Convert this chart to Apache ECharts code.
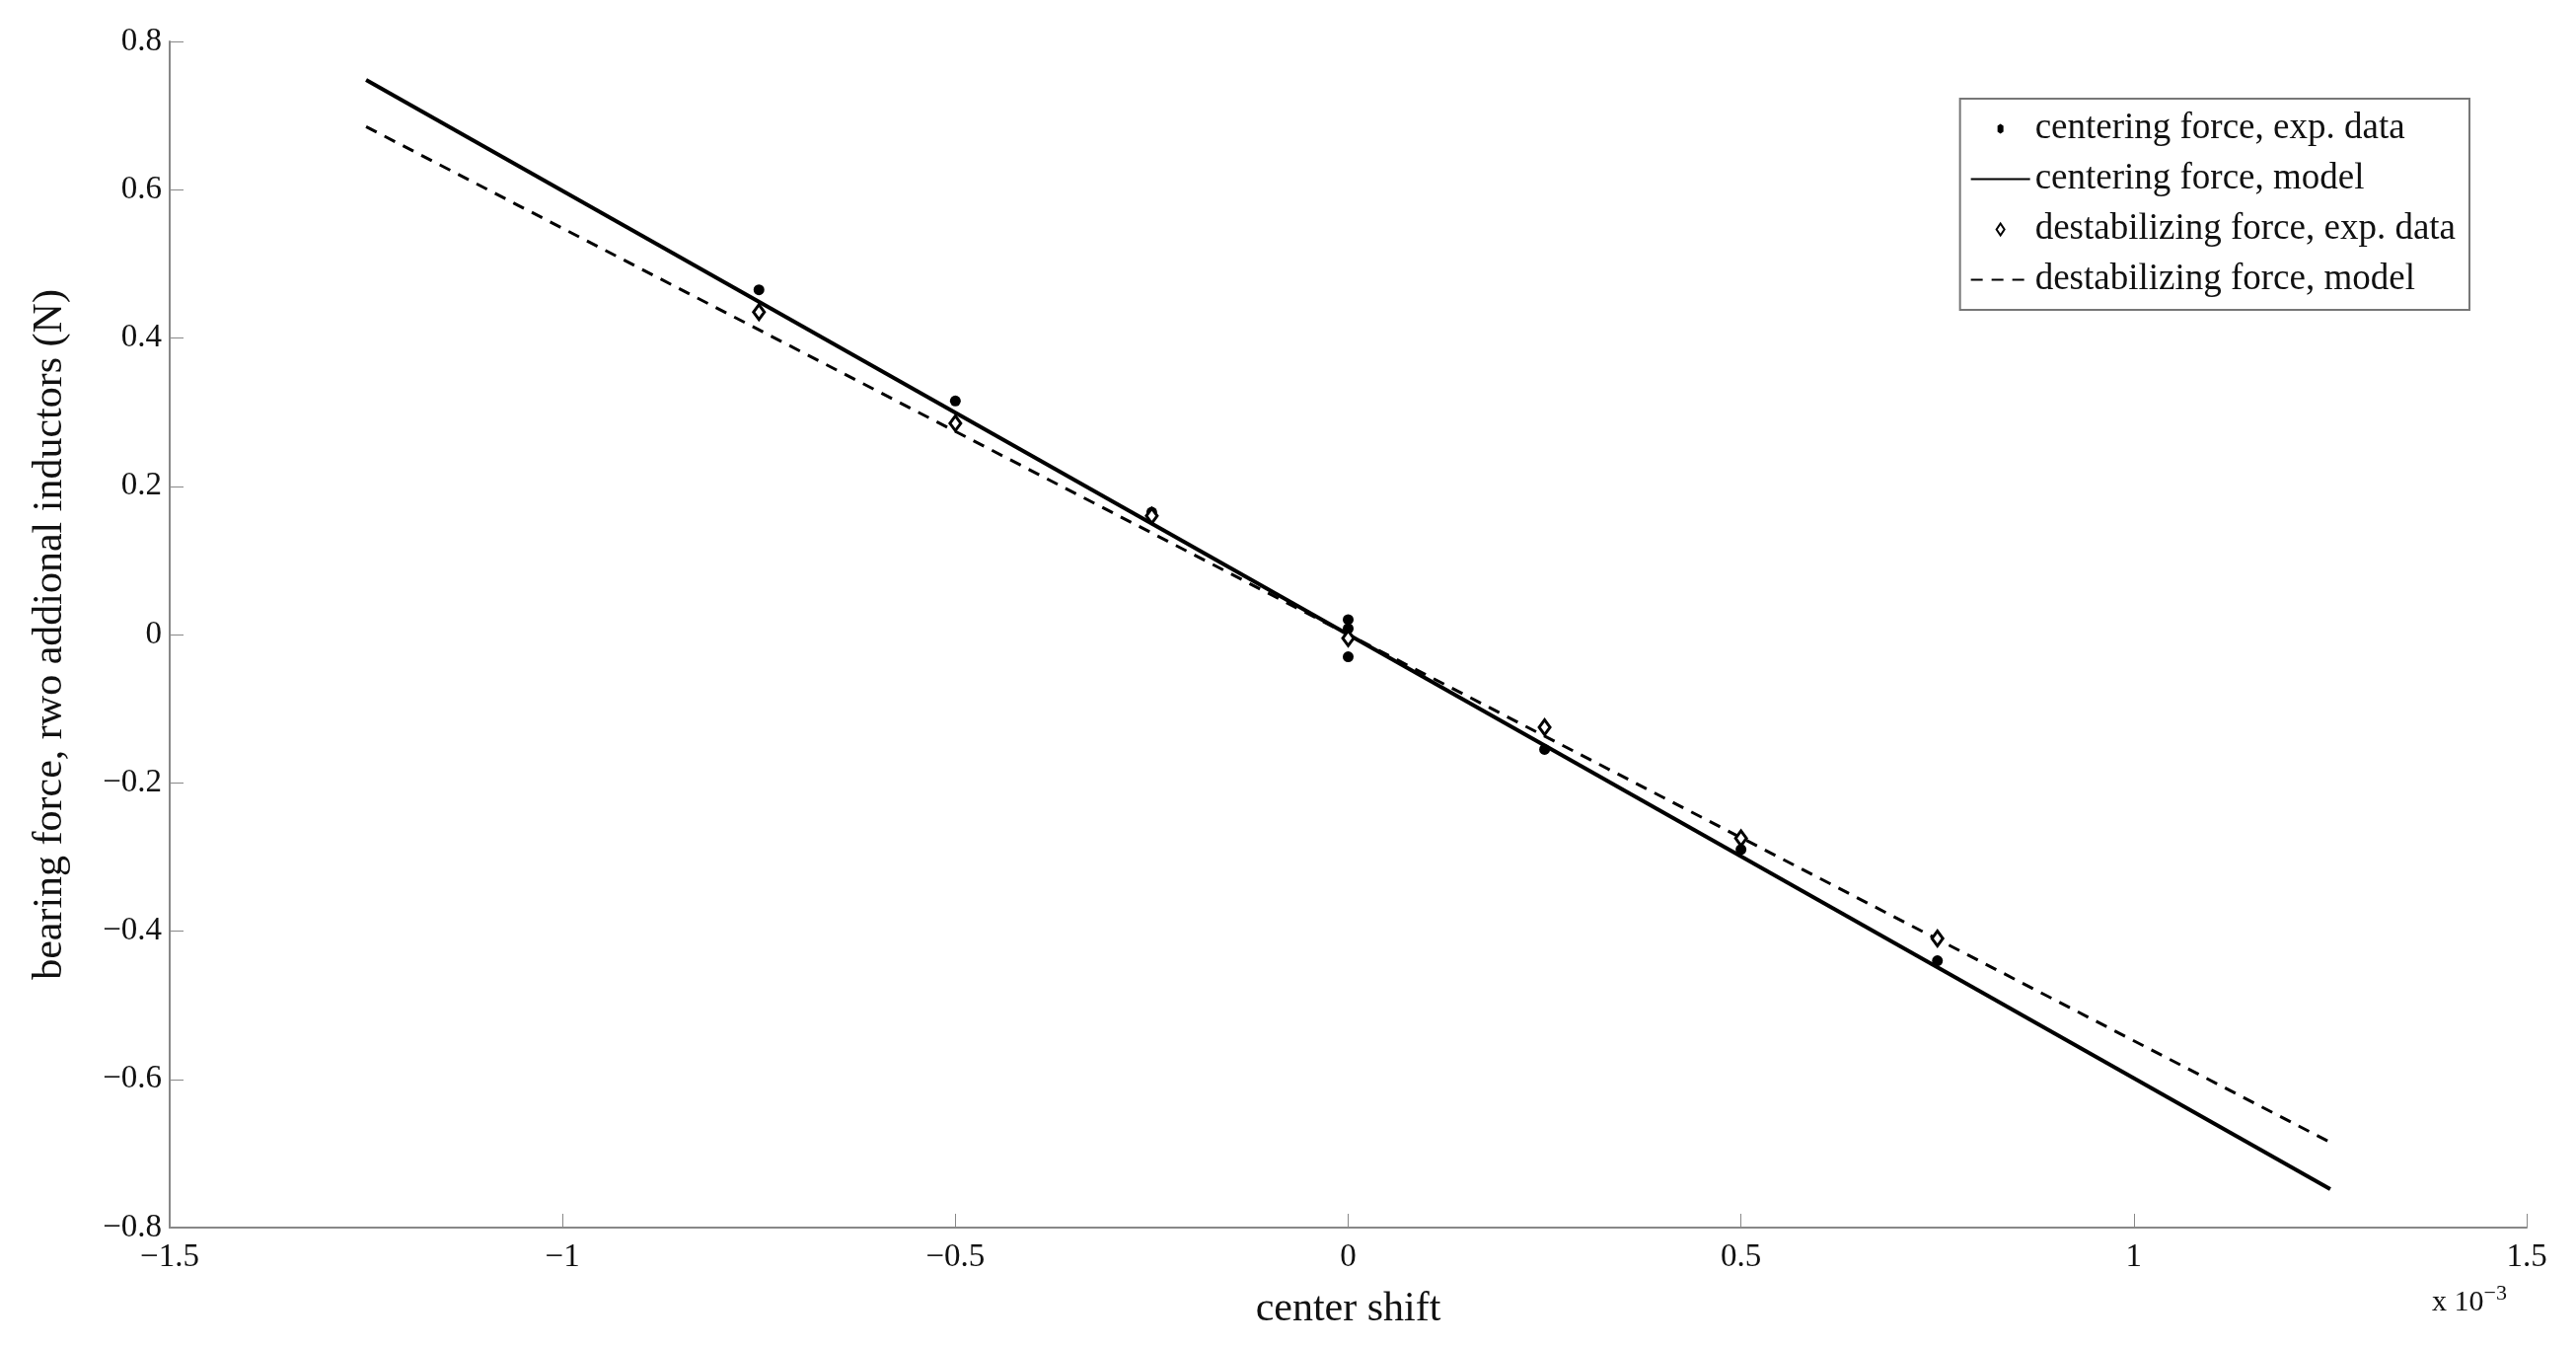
<!DOCTYPE html>
<html><head><meta charset="utf-8">
<script src="https://cdn.jsdelivr.net/npm/echarts@6/dist/echarts.min.js"></script>
<style>html,body{margin:0;background:#fff}#c{width:2611px;height:1365px}</style>
</head><body><div id="c"></div>
<script>
// x values in units of 1e-3
var centerExp = [[-0.75,0.465],[-0.5,0.315],[-0.25,0.165],[0,0.02],[0,0.008],[0,-0.005],[0,-0.03],[0.25,-0.155],[0.5,-0.29],[0.75,-0.44]];
var centerModel = [[-1.25,0.748],[1.25,-0.748]];
var destabExp = [[-0.75,0.435],[-0.5,0.285],[-0.25,0.16],[0,-0.005],[0.25,-0.125],[0.5,-0.275],[0.75,-0.41]];
var destabModel = [[-1.25,0.685],[1.25,-0.685]];

var font = 'Liberation Serif';
var chart = echarts.init(document.getElementById('c'));
var axisCommon = {
  axisLine: {onZero: false, lineStyle: {color: '#888', width: 2}},
  axisTick: {inside: true, length: 14, lineStyle: {color: '#888'}},
  splitLine: {show: false},
  nameTextStyle: {color: '#111', fontFamily: font, fontSize: 42}
};
var minus = function (s) { return s.replace('-', '\u2212'); };
chart.setOption({
  animation: false,
  grid: {left: 172, right: 50, top: 42, bottom: 121},
  legend: {
    orient: 'vertical', right: 108, top: 100,
    itemWidth: 60, itemHeight: 16, itemGap: 14,
    padding: [12, 14, 12, 10],
    borderColor: '#777', borderWidth: 2,
    textStyle: {fontFamily: font, fontSize: 37, color: '#111'},
    data: [
      {name: 'centering force, exp. data', icon: 'path://M0,8L0,8M27,5L30,3L33,5L33,11L30,13L27,11ZM60,8L60,8'},
      {name: 'centering force, model', itemStyle: {opacity: 0}},
      {name: 'destabilizing force, exp. data', icon: 'path://M0,8L0,8M30,2L34,8L30,14L26,8ZM60,8L60,8'},
      {name: 'destabilizing force, model', itemStyle: {opacity: 0}}
    ]
  },
  xAxis: Object.assign({type: 'value', min: -1.5, max: 1.5, interval: 0.5,
    name: 'center shift', nameLocation: 'middle', nameGap: 62}, axisCommon,
    {axisLabel: {color: '#111', fontFamily: font, fontSize: 33, margin: 14,
      formatter: function (v) { return minus(String(v)); }}}),
  yAxis: Object.assign({type: 'value', min: -0.8, max: 0.8, interval: 0.2,
    name: 'bearing force, rwo addional inductors (N)', nameLocation: 'middle', nameGap: 100}, axisCommon,
    {axisLabel: {color: '#111', fontFamily: font, fontSize: 33,
      formatter: function (v) { return minus((Math.round(v * 10) / 10).toString()); }}}),
  graphic: [{type: 'text', right: 70, bottom: 30,
    style: {rich: {a: {fontFamily: font, fontSize: 30, fill: '#111'}, b: {fontFamily: font, fontSize: 22, fill: '#111', verticalAlign: 'top', padding: [0, 0, 18, 0]}},
      text: '{a|x 10}{b|\u22123}'}}],
  series: [
    {name: 'centering force, exp. data', type: 'scatter', data: centerExp, symbol: 'circle', symbolSize: 11,
      itemStyle: {color: '#000', opacity: 1}, z: 5},
    {name: 'centering force, model', type: 'line', data: centerModel, symbol: 'none',
      lineStyle: {color: '#000', width: 4}, itemStyle: {color: '#000'}},
    {name: 'destabilizing force, exp. data', type: 'scatter', data: destabExp, symbol: 'diamond', symbolSize: [11, 15],
      itemStyle: {color: '#fff', borderColor: '#000', borderWidth: 3, opacity: 1}, z: 6},
    {name: 'destabilizing force, model', type: 'line', data: destabModel, symbol: 'none',
      lineStyle: {color: '#000', width: 3, type: [12, 9]}, itemStyle: {color: '#000'}}
  ]
});
</script></body></html>
